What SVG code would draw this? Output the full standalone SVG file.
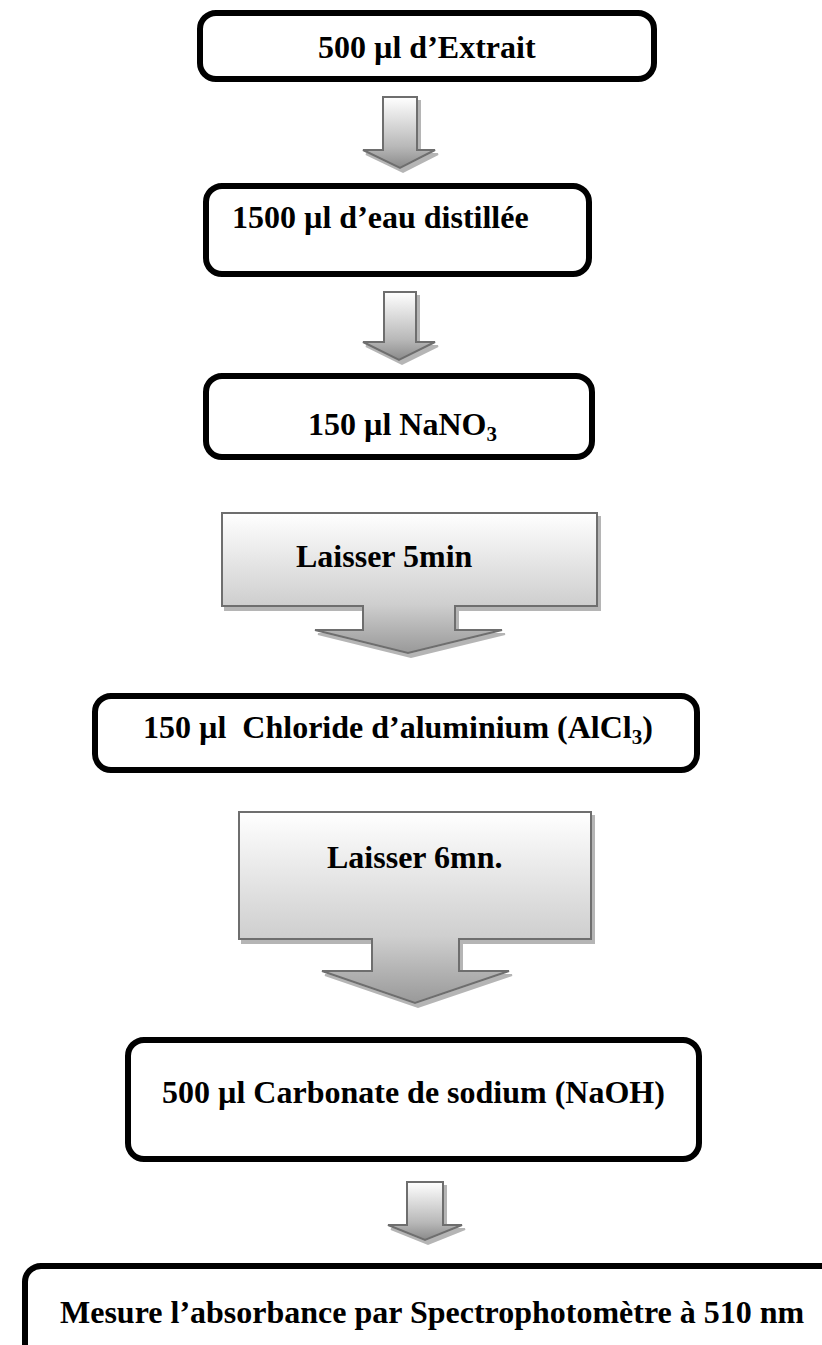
<svg xmlns="http://www.w3.org/2000/svg" width="822" height="1345" viewBox="0 0 822 1345">
<style>
.box{fill:#ffffff;stroke:#000000;stroke-width:6}
.lbl{font-family:"Liberation Serif","Times New Roman",serif;font-weight:bold;font-size:32px;fill:#000000;white-space:pre}
.arr{stroke:#6e6e6e;stroke-width:2;stroke-linejoin:miter;filter:url(#shadow)}
.small{fill:url(#gSmall)}
.big{fill:url(#gBig)}
</style>
<defs>
<linearGradient id="gSmall" x1="0" y1="0" x2="0" y2="1">
<stop offset="0" stop-color="#ffffff"/>
<stop offset="0.7" stop-color="#b8b8b8"/>
<stop offset="1" stop-color="#8a8a8a"/>
</linearGradient>
<linearGradient id="gBig" x1="0" y1="0" x2="0" y2="1">
<stop offset="0" stop-color="#ffffff"/>
<stop offset="0.65" stop-color="#cfcfcf"/>
<stop offset="1" stop-color="#999999"/>
</linearGradient>
<filter id="shadow" x="-10%" y="-10%" width="130%" height="130%">
<feOffset in="SourceAlpha" dx="3" dy="4" result="o"/>
<feFlood flood-color="#b5b5b5"/>
<feComposite in2="o" operator="in" result="s"/>
<feMerge><feMergeNode in="s"/><feMergeNode in="SourceGraphic"/></feMerge>
</filter>
</defs>

<g id="connectors">
<path class="arr small" d="M383,97 H417 V150 H435 L400,168 L363,150 H383 Z"/>
<path class="arr small" d="M384,292 H416 V342 H435 L399,360 L363,342 H384 Z"/>
<path class="arr big" d="M222,513 H597 V606 H455 V630 H502 L408,653 L315,630 H363 V606 H222 Z"/>
<path class="arr big" d="M239,812 H591 V939 H459 V971 H509 L415,1003 L322,971 H372 V939 H239 Z"/>
<path class="arr small" d="M407,1182 H443 V1225 H462 L425,1240 L388,1225 H407 Z"/>
<text class="lbl" x="296" y="567">Laisser 5min</text>
<text class="lbl" x="327" y="868">Laisser 6mn.</text>
</g>

<g id="n1">
<rect class="box" x="200" y="13" width="454" height="66" rx="16"/>
<text class="lbl" x="318" y="58">500 µl d’Extrait</text>
</g>
<g id="n2">
<rect class="box" x="206" y="186" width="383" height="88" rx="16"/>
<text class="lbl" x="232" y="228">1500 µl d’eau distillée</text>
</g>
<g id="n3">
<rect class="box" x="206" y="376" width="386" height="81" rx="16"/>
<text class="lbl" x="308" y="435">150 µl NaNO<tspan font-size="21" dy="6">3</tspan></text>
</g>
<g id="n4">
<rect class="box" x="95" y="696" width="602" height="74" rx="16"/>
<text class="lbl" x="143" y="738">150 µl  Chloride d’aluminium (AlCl<tspan font-size="21" dy="6">3</tspan><tspan dy="-6">)</tspan></text>
</g>
<g id="n5">
<rect class="box" x="128" y="1040" width="571" height="119" rx="16"/>
<text class="lbl" x="162" y="1103">500 µl Carbonate de sodium (NaOH)</text>
</g>
<g id="n6">
<rect class="box" x="25" y="1266" width="830" height="120" rx="16"/>
<text class="lbl" x="60" y="1323">Mesure l’absorbance par Spectrophotomètre à 510 nm</text>
</g>
</svg>
